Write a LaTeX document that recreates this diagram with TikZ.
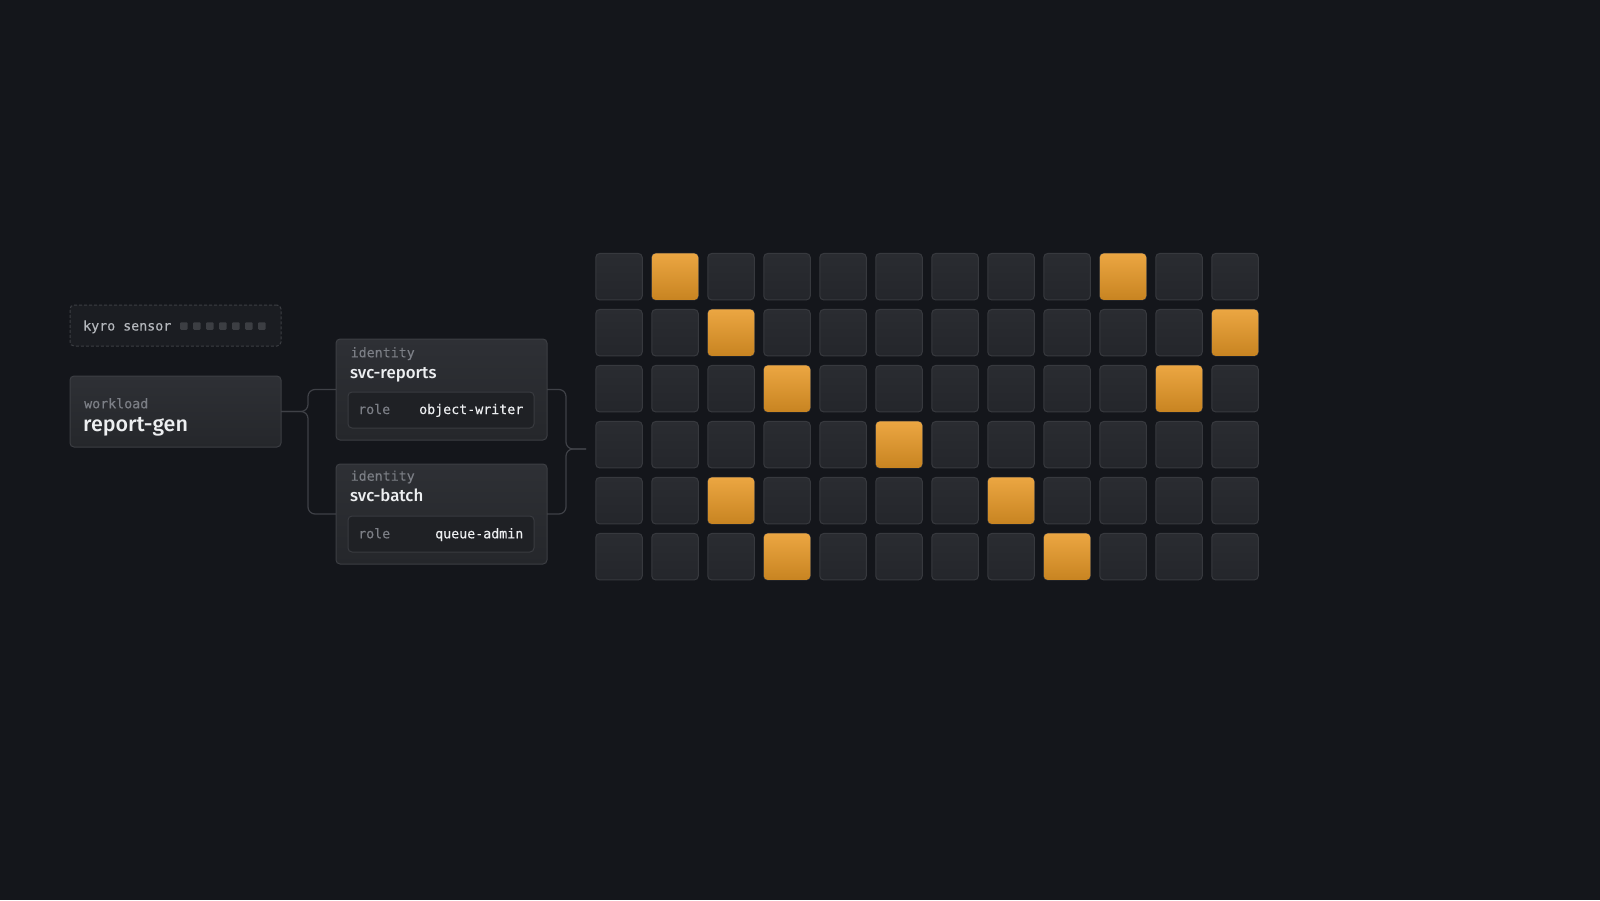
\documentclass[tikz,border=0pt]{standalone}
\usepackage{fontspec}
\setmainfont{Fira Sans}[UprightFont={* Medium}]
\setmonofont{DejaVu Sans Mono}[FakeBold=0.25]
\usetikzlibrary{positioning}
\definecolor{bg}{HTML}{14161B}
\definecolor{cardtop}{HTML}{2E3035}
\definecolor{cardbot}{HTML}{25272B}
\definecolor{cardline}{HTML}{3C3E43}
\definecolor{sensorfill}{HTML}{1B1D22}
\definecolor{rolefill}{HTML}{1F2125}
\definecolor{roleline}{HTML}{393B40}
\definecolor{celltop}{HTML}{2A2C31}
\definecolor{cellbot}{HTML}{24262B}
\definecolor{cellline}{HTML}{37393E}
\definecolor{hottop}{HTML}{EBA642}
\definecolor{hotbot}{HTML}{C88421}
\definecolor{labelgray}{HTML}{7C7F86}
\definecolor{sensortext}{HTML}{B4B7BC}
\definecolor{namewhite}{HTML}{EDEFF1}
\definecolor{wirecol}{HTML}{3F4147}
\tikzset{card/.style = {draw=cardline, line width=1pt, rounded corners=4pt, top color=cardtop, bottom color=cardbot, inner sep=0pt, outer sep=0pt, minimum width=211pt}}
\tikzset{sensorbox/.style = {draw=cardline, line width=1pt, dash pattern=on 3pt off 2pt, rounded corners=4pt, fill=sensorfill, inner sep=0pt, outer sep=0pt, minimum width=211pt, minimum height=41pt}}
\tikzset{rolebox/.style = {draw=roleline, line width=1pt, rounded corners=4pt, fill=rolefill, inner sep=0pt, outer sep=0pt, minimum width=186pt, minimum height=36pt}}
\tikzset{cell/.style = {draw=cellline, line width=1pt, rounded corners=4pt, top color=celltop, bottom color=cellbot, inner sep=0pt, outer sep=0pt, minimum size=46.5pt}}
\tikzset{hotcell/.style = {rounded corners=4pt, top color=hottop, bottom color=hotbot, inner sep=0pt, outer sep=0pt, minimum size=46.5pt}}
\tikzset{dot/.style = {fill=cardline, rounded corners=1pt, inner sep=0pt, minimum size=7.5pt}}
\tikzset{mono/.style = {inner sep=0pt, font=\fontsize{13.3}{15}\selectfont\ttfamily}}
\tikzset{tag/.style = {mono, text=labelgray}}
\tikzset{bigname/.style = {inner sep=0pt, text=namewhite, font=\fontsize{21.5}{24}\selectfont}}
\tikzset{idname/.style = {inner sep=0pt, text=namewhite, font=\fontsize{16.8}{19}\selectfont}}
\tikzset{wire/.style = {draw=wirecol, line width=1.2pt, rounded corners=7pt}}

\begin{document}
\begin{tikzpicture}[x=1pt, y=-1pt]
\fill[bg] (0,0) rectangle (1600,900);
\useasboundingbox (0,0) rectangle (1600,900);

\node[sensorbox] (sensor) at (175.5,325.5) {};
\node[mono, text=sensortext, anchor=base west] (sensorlabel) at (83,330.5) {kyro sensor};
\foreach \i in {0,...,6} {
  \node[dot] (dot\i) at (183.8+13*\i,326) {};
}

\node[card, minimum height=71pt] (workload) at (175.5,411.5) {};
\node[tag, anchor=base west] (workloadtag) at (84,408.3) {workload};
\node[bigname, anchor=base west] (workloadname) at (83,431.7) {report-gen};

\node[card, minimum height=101pt] (reports) at (441.5,389.5) {};
\node[tag, anchor=base west] (reportstag) at (350.5,357.3) {identity};
\node[idname, anchor=base west] (reportsname) at (350,378.3) {svc-reports};
\node[rolebox] (reportsrole) at (441,410) {};
\node[tag, anchor=base west] (reportsroletag) at (358,414) {role};
\node[mono, text=namewhite, anchor=base east] (reportsrolename) at (523.5,414) {object-writer};

\node[card, minimum height=100pt] (batch) at (441.5,514) {};
\node[tag, anchor=base west] (batchtag) at (350.5,480.7) {identity};
\node[idname, anchor=base west] (batchname) at (350,501.7) {svc-batch};
\node[rolebox] (batchrole) at (441,534) {};
\node[tag, anchor=base west] (batchroletag) at (358,538.3) {role};
\node[mono, text=namewhite, anchor=base east] (batchrolename) at (523.5,538.3) {queue-admin};

\coordinate (gridin) at (586,449);
\draw[wire] (workload.east) -- ++(27,0) |- (reports.west);
\draw[wire] (workload.east) -- ++(27,0) |- (batch.west);
\draw[wire] (reports.east) -- ++(19,0) |- (gridin);
\draw[wire] (batch.east) -- ++(19,0) |- (gridin);

\foreach \r in {0,...,5} {
  \foreach \c in {0,...,11} {
    \node[cell] (cell-\r-\c) at (619+56*\c,276.7+56*\r) {};
  }
}
\foreach \r/\c in {0/1,0/9,1/2,1/11,2/3,2/10,3/5,4/2,4/7,5/3,5/8} {
  \node[hotcell] (hot-\r-\c) at (cell-\r-\c) {};
}
\end{tikzpicture}
\end{document}
